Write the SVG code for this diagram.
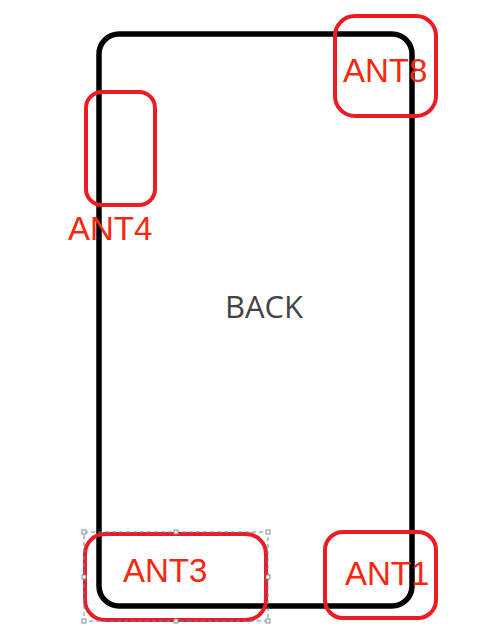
<svg xmlns="http://www.w3.org/2000/svg" width="501" height="628" viewBox="0 0 501 628">
<style>
.phone{fill:none;stroke:#000;stroke-width:5.5}
.ant{fill:none;stroke:#ec1c24;stroke-width:4}
.lbl{font-family:"Liberation Sans",Arial,sans-serif;font-size:33px;fill:#f7280e}
.back{font-family:"Open Sans","Liberation Sans",sans-serif;font-size:31px;fill:#444}
.sel{fill:none;stroke:#4a8fd8;stroke-width:1;stroke-dasharray:4 3}
.h{fill:#fff;stroke:#888;stroke-width:1}
</style>
<rect width="501" height="628" fill="#fff"/>
<g id="phone">
<rect class="phone" x="99" y="34" width="313" height="572" rx="20"/>
<text class="back" x="264" y="318" text-anchor="middle">BACK</text>
</g>
<g id="ant8">
<rect class="ant" x="335" y="16" width="101" height="100" rx="20"/>
<text class="lbl" x="343" y="82">ANT8</text>
</g>
<g id="ant4">
<rect class="ant" x="86" y="92" width="69" height="113" rx="16"/>
<text class="lbl" x="68" y="240">ANT4</text>
</g>
<g id="ant3">
<rect class="ant" x="85" y="534" width="181" height="86" rx="20"/>
<rect class="sel" x="84" y="532" width="184" height="89"/>
<rect class="h" x="82" y="530" width="4" height="4"/>
<rect class="h" x="174" y="530" width="4" height="4"/>
<rect class="h" x="266" y="530" width="4" height="4"/>
<rect class="h" x="82" y="575" width="4" height="4"/>
<rect class="h" x="266" y="575" width="4" height="4"/>
<rect class="h" x="82" y="619" width="4" height="4"/>
<rect class="h" x="174" y="619" width="4" height="4"/>
<rect class="h" x="266" y="619" width="4" height="4"/>
<text class="lbl" x="123" y="582">ANT3</text>
</g>
<g id="ant1">
<rect class="ant" x="325" y="532" width="111" height="86" rx="18"/>
<text class="lbl" x="345" y="585">ANT1</text>
</g>
<g id="connectors"/>
</svg>
